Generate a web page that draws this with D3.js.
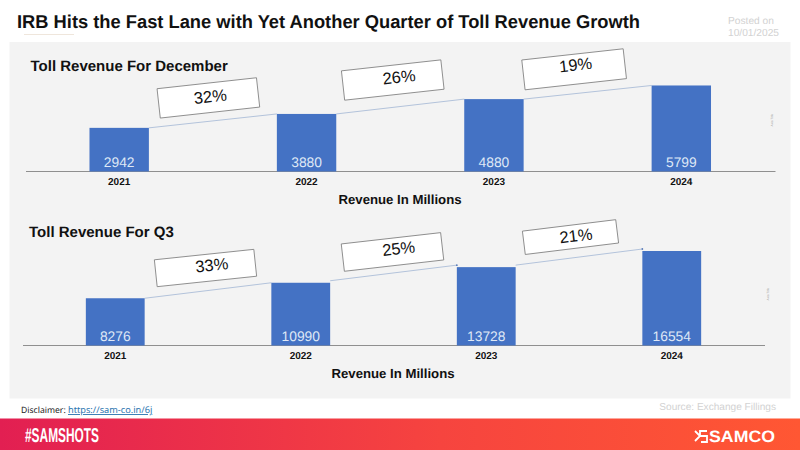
<!DOCTYPE html>
<html>
<head>
<meta charset="utf-8">
<script src="https://cdn.jsdelivr.net/npm/d3@7"></script>
<style>
    html, body { margin: 0; padding: 0; background: #fff; }
    svg { display: block; text-rendering: geometricPrecision; }
    text { font-family: "Liberation Sans", Arial, sans-serif; }
</style>
</head>
<body>
<div id="wrapper"></div>
<script>
const years = ["2021", "2022", "2023", "2024"];
const decemberRevenue = [2942, 3880, 4880, 5799];
const q3Revenue = [8276, 10990, 13728, 16554];
const decemberGrowth = ["32%", "26%", "19%"];
const q3Growth = ["33%", "25%", "21%"];

const dimension = { width: 800, height: 450 };

const svg = d3.select("#wrapper").append("svg")
    .attr("width", dimension.width)
    .attr("height", dimension.height);

const defs = svg.append("defs");
const footerGradient = defs.append("linearGradient").attr("id", "footerFill");
footerGradient.append("stop").attr("offset", "0%").attr("stop-color", "#e21f52");
footerGradient.append("stop").attr("offset", "55%").attr("stop-color", "#f6443f");
footerGradient.append("stop").attr("offset", "100%").attr("stop-color", "#ff5733");

// header
svg.append("text")
    .attr("x", 17).attr("y", 27.5)
    .attr("font-size", 18.6).attr("font-weight", "bold").attr("fill", "#111")
    .attr("textLength", 623).attr("lengthAdjust", "spacingAndGlyphs")
    .text("IRB Hits the Fast Lane with Yet Another Quarter of Toll Revenue Growth");
svg.append("line")
    .attr("x1", 24).attr("x2", 74).attr("y1", 34.5).attr("y2", 34.5)
    .attr("stroke", "#efe6dc").attr("stroke-width", 1);
svg.append("text")
    .attr("x", 728).attr("y", 24)
    .attr("font-size", 10.2).attr("fill", "#d2d2d2")
    .text("Posted on");
svg.append("text")
    .attr("x", 728).attr("y", 36)
    .attr("font-size", 10.2).attr("fill", "#d2d2d2")
    .text("10/01/2025");

svg.append("rect")
    .attr("x", 9.5).attr("y", 42)
    .attr("width", 781).attr("height", 356.5)
    .attr("fill", "#f3f3f3");

function drawChart(cfg) {
    const g = svg.append("g");

    const xScaler = d3.scaleBand()
        .domain(years)
        .range(cfg.xRange)
        .paddingInner(0.683)
        .paddingOuter(0.3415);

    const yScaler = d3.scaleLinear()
        .domain([0, cfg.yMax])
        .range([cfg.baseline, cfg.baseline - cfg.plotHeight]);

    g.append("text")
        .attr("x", cfg.titleX).attr("y", cfg.titleY)
        .attr("font-size", 15).attr("font-weight", "bold").attr("fill", "#111")
        .text(cfg.title);

    // connector lines between the bars
    const pairs = d3.pairs(years.map((y, i) => ({ year: y, value: cfg.values[i] })));
    g.selectAll(".connector")
        .data(pairs)
        .join("line")
        .attr("class", "connector")
        .attr("x1", ([a]) => xScaler(a.year) + xScaler.bandwidth())
        .attr("y1", ([a], i) => yScaler(a.value) - cfg.lift[i])
        .attr("x2", ([, b]) => xScaler(b.year))
        .attr("y2", ([, b], i) => yScaler(b.value) - cfg.lift[i])
        .attr("stroke", "#b3c3db")
        .attr("stroke-width", 1);

    g.selectAll(".endDot")
        .data(pairs.filter((d, i) => cfg.lift[i] > 0))
        .join("circle")
        .attr("class", "endDot")
        .attr("cx", ([, b]) => xScaler(b.year))
        .attr("cy", ([, b]) => yScaler(b.value) - 2)
        .attr("r", 0.9)
        .attr("fill", "#5b7db8");

    // axis
    const xAxis = d3.axisBottom(xScaler).tickSize(0).tickPadding(7);
    const axisG = g.append("g")
        .attr("transform", `translate(0, ${cfg.baseline - 0.5})`)
        .call(xAxis);
    axisG.select(".domain").attr("stroke", "#8f8f8f").attr("stroke-width", 1);
    axisG.selectAll("text")
        .attr("font-family", "Liberation Sans")
        .attr("font-size", 10)
        .attr("font-weight", "bold")
        .attr("fill", "#111");

    // bars
    g.selectAll(".bar")
        .data(cfg.values)
        .join("rect")
        .attr("class", "bar")
        .attr("x", (d, i) => xScaler(years[i]))
        .attr("y", d => yScaler(d))
        .attr("width", xScaler.bandwidth())
        .attr("height", d => cfg.baseline - yScaler(d))
        .attr("fill", "#4472c4");

    g.selectAll(".barLabel")
        .data(cfg.values)
        .join("text")
        .attr("class", "barLabel")
        .attr("x", (d, i) => xScaler(years[i]) + xScaler.bandwidth() / 2)
        .attr("y", cfg.baseline - 4.2)
        .attr("text-anchor", "middle")
        .attr("font-size", 13.8)
        .attr("fill", "#dfe8f6")
        .text(d => d);

    g.append("text")
        .attr("x", cfg.axisTitleX).attr("y", cfg.baseline + 32)
        .attr("text-anchor", "middle")
        .attr("font-size", 13.2).attr("font-weight", "bold").attr("fill", "#111")
        .text("Revenue In Millions");

    // tiny leftover axis title at the right
    g.append("text")
        .attr("transform", `translate(${cfg.sideX}, ${cfg.sideY}) rotate(-90)`)
        .attr("text-anchor", "middle")
        .attr("font-size", 3.2).attr("fill", "#9a9a9a")
        .text("Axis Title");

    // growth callouts, placed off the midpoint between neighbouring bars
    const callouts = g.selectAll(".callout")
        .data(cfg.growth)
        .join("g")
        .attr("class", "callout")
        .attr("transform", (d, i) => {
            const mid = (xScaler(years[i]) + xScaler(years[i + 1]) + xScaler.bandwidth()) / 2;
            const midY = (yScaler(cfg.values[i]) + yScaler(cfg.values[i + 1])) / 2;
            const b = cfg.boxes[i];
            return `translate(${mid + b.dx}, ${midY + b.dy}) rotate(${b.angle})`;
        });
    callouts.append("rect")
        .attr("x", (d, i) => -cfg.boxes[i].w / 2)
        .attr("y", (d, i) => -cfg.boxes[i].h / 2)
        .attr("width", (d, i) => cfg.boxes[i].w)
        .attr("height", (d, i) => cfg.boxes[i].h)
        .attr("fill", "#fff")
        .attr("stroke", "#7a7a7a")
        .attr("stroke-width", 0.8);
    callouts.append("text")
        .attr("x", (d, i) => cfg.boxes[i].tx)
        .attr("y", (d, i) => cfg.boxes[i].ty)
        .attr("text-anchor", "middle")
        .attr("font-size", 16.5)
        .attr("fill", "#111")
        .text(d => d);
}

drawChart({
    title: "Toll Revenue For December", titleX: 30.5, titleY: 71,
    values: decemberRevenue, growth: decemberGrowth,
    xRange: [25.5, 775], baseline: 171.5, yMax: 6000, plotHeight: 89,
    lift: [0, 0, 0],
    axisTitleX: 400, sideX: 773, sideY: 120,
    boxes: [
        { dx: -4.5, dy: -23, w: 100, h: 29.5, angle: -6.3, tx: 2, ty: 4.5 },
        { dx: -7.5, dy: -26.5, w: 100, h: 29.5, angle: -6.3, tx: 6.5, ty: 3.5 },
        { dx: -13.5, dy: -23, w: 102, h: 30, angle: -6.3, tx: 2, ty: 1.5 }
    ]
});

drawChart({
    title: "Toll Revenue For Q3", titleX: 29, titleY: 237,
    values: q3Revenue, growth: q3Growth,
    xRange: [22.5, 764.5], baseline: 345.5, yMax: 16554, plotHeight: 94.5,
    lift: [0, 2, 2],
    axisTitleX: 393, sideX: 769, sideY: 294,
    boxes: [
        { dx: -2.5, dy: -22.5, w: 100, h: 27, angle: -6, tx: 6.5, ty: 3.5 },
        { dx: -1, dy: -23, w: 100, h: 27.5, angle: -6.5, tx: 6.5, ty: 3 },
        { dx: -8.5, dy: -22, w: 94, h: 23.5, angle: -7, tx: 5.5, ty: 5 }
    ]
});

// footer
svg.append("text")
    .attr("x", 21).attr("y", 413)
    .attr("font-size", 8.6).attr("fill", "#222")
    .style("font-family", "Noto Sans")
    .text("Disclaimer:");
svg.append("text")
    .attr("x", 68).attr("y", 413)
    .attr("font-size", 9.2).attr("fill", "#2d76b0")
    .attr("text-decoration", "underline")
    .style("font-family", "Noto Sans")
    .text("https://sam-co.in/6j");
svg.append("text")
    .attr("x", 776).attr("y", 410)
    .attr("text-anchor", "end")
    .attr("font-size", 10.1).attr("fill", "#d2d2d2")
    .text("Source: Exchange Fillings");

svg.append("rect")
    .attr("x", 0).attr("y", 418.5)
    .attr("width", 800).attr("height", 31.5)
    .attr("fill", "url(#footerFill)");
svg.append("text")
    .attr("x", 25).attr("y", 441.5)
    .attr("font-size", 20).attr("font-weight", "bold").attr("fill", "#fff")
    .attr("textLength", 74).attr("lengthAdjust", "spacingAndGlyphs")
    .text("#SAMSHOTS");
svg.append("path")
    .attr("d", "M695 431 L700 436 L695 441 M707 431 L700 431 L700 436 L707 436 L707 442 L701 442")
    .attr("fill", "none").attr("stroke", "#fff").attr("stroke-width", 1.8);
svg.append("text")
    .attr("x", 709).attr("y", 442)
    .attr("font-size", 16.5).attr("font-weight", "bold").attr("fill", "#fff")
    .attr("textLength", 66).attr("lengthAdjust", "spacingAndGlyphs")
    .text("SAMCO");
</script>
</body>
</html>
